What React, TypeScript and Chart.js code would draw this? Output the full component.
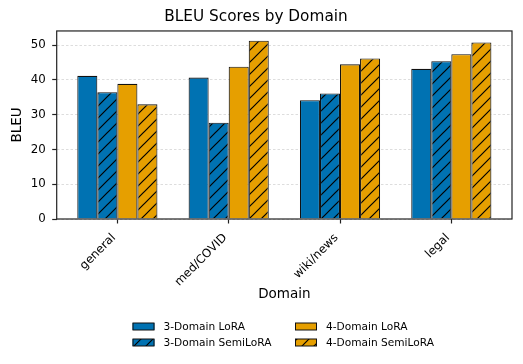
import React, { useEffect, useRef } from "react";
import { Chart, registerables } from "chart.js";

Chart.register(...registerables);

const categories = ["general", "med/COVID", "wiki/news", "legal"];
const seriesNames = ["3-Domain LoRA", "3-Domain SemiLoRA", "4-Domain LoRA", "4-Domain SemiLoRA"];
const lora3 = [41.2, 40.7, 34.2, 43.2];
const semi3 = [36.5, 27.7, 36.1, 45.4];
const lora4 = [38.9, 43.8, 44.5, 47.4];
const semi4 = [33.0, 51.3, 46.2, 50.8];
const yTicks = [0, 10, 20, 30, 40, 50];

const BLUE = "#0072B2";
const ORANGE = "#E69F00";
const EDGE = "#111111";
const FONT = "'DejaVu Sans', sans-serif";

function makeHatch(bg: string): CanvasPattern | string {
  const s = 12;
  const c = document.createElement("canvas");
  c.width = s;
  c.height = s;
  const g = c.getContext("2d");
  if (!g) return bg;
  g.fillStyle = bg;
  g.fillRect(0, 0, s, s);
  g.strokeStyle = "#000";
  g.lineWidth = 1.2;
  g.beginPath();
  g.moveTo(-2, s + 2);
  g.lineTo(s + 2, -2);
  g.moveTo(-2, 2);
  g.lineTo(2, -2);
  g.moveTo(s - 2, s + 2);
  g.lineTo(s + 2, s - 2);
  g.stroke();
  const p = g.createPattern(c, "repeat");
  return p || bg;
}

export default function App() {
  const ref = useRef<HTMLCanvasElement | null>(null);

  useEffect(() => {
    document.body.style.margin = "0";
    const canvas = ref.current;
    if (!canvas) return;
    const hatchBlue = makeHatch(BLUE);
    const hatchOrange = makeHatch(ORANGE);
    const fills = [BLUE, hatchBlue, ORANGE, hatchOrange];
    const values = [lora3, semi3, lora4, semi4];

    const framePlugin = {
      id: "frame",
      afterDatasetsDraw(chart: any) {
        const { ctx, chartArea: a } = chart;
        ctx.save();
        ctx.strokeStyle = "#222";
        ctx.lineWidth = 1.2;
        ctx.strokeRect(a.left, a.top, a.right - a.left, a.bottom - a.top);
        ctx.restore();
      },
    };

    const legendPlugin = {
      id: "customLegend",
      afterDraw(chart: any) {
        const ctx = chart.ctx;
        ctx.save();
        const cols = [132.5, 295];
        const rows = [326.5, 342.5];
        const order = [
          [0, 0, 0],
          [1, 0, 1],
          [2, 1, 0],
          [3, 1, 1],
        ];
        ctx.font = `10.6px ${FONT}`;
        ctx.textBaseline = "middle";
        ctx.textAlign = "left";
        for (const [i, c, r] of order) {
          const x = cols[c];
          const y = rows[r];
          ctx.fillStyle = fills[i] as any;
          ctx.fillRect(x, y - 3.5, 22, 7);
          ctx.strokeStyle = EDGE;
          ctx.lineWidth = 1;
          ctx.strokeRect(x + 0.5, y - 3.5, 21, 7);
          ctx.fillStyle = "#000";
          ctx.fillText(seriesNames[i], x + 31, y + 0.5);
        }
        ctx.restore();
      },
    };

    const chart = new Chart(canvas, {
      type: "bar",
      data: {
        labels: categories,
        datasets: values.map((v, i) => ({
          label: seriesNames[i],
          data: v,
          backgroundColor: fills[i] as any,
          borderColor: EDGE,
          borderWidth: 1.1,
          categoryPercentage: 0.72,
          barPercentage: 1.0,
        })),
      },
      options: {
        responsive: false,
        animation: false,
        layout: { padding: { left: 0, right: 11, top: 0, bottom: 61.4 } },
        plugins: {
          legend: { display: false },
          tooltip: { enabled: false },
          title: {
            display: true,
            text: "BLEU Scores by Domain",
            color: "#000",
            font: { family: FONT, size: 15.3, weight: "normal" },
            padding: { top: 8.3, bottom: 4.3 },
          },
        },
        scales: {
          x: {
            offset: true,
            afterBuildTicks: (scale: any) => {
              scale._startValue = -0.545;
              scale._valueRange = 4.09;
            },
            afterFit: (scale: any) => {
              scale.height = 83.6;
            },
            grid: {
              display: true,
              drawOnChartArea: false,
              offset: false,
              tickLength: 4.5,
              tickColor: "#222",
              tickWidth: 1.2,
            },
            border: { display: false },
            ticks: {
              autoSkip: false,
              minRotation: 45,
              maxRotation: 45,
              color: "#000",
              padding: 7.5,
              labelOffset: -3.5,
              font: { family: FONT, size: 11.8 },
            },
            title: {
              display: true,
              text: "Domain",
              color: "#000",
              font: { family: FONT, size: 13.5 },
              padding: { top: 0, bottom: 0 },
            },
          },
          y: {
            min: 0,
            max: 54.1,
            afterFit: (scale: any) => {
              scale.width = 56.7;
            },
            afterBuildTicks: (scale: any) => {
              scale.ticks = yTicks.map((v) => ({ value: v }));
            },
            grid: {
              color: "#d4d4d4",
              lineWidth: 0.8,
              tickLength: 4.5,
              tickColor: "#222",
              tickWidth: 1.2,
              tickBorderDash: [],
            },
            border: { display: false, dash: [2.5, 2] },
            ticks: {
              color: "#000",
              padding: 6.5,
              font: { family: FONT, size: 11.8 },
            },
            title: {
              display: true,
              text: "BLEU",
              color: "#000",
              font: { family: FONT, size: 13.5 },
              padding: { top: 9.1, bottom: 0 },
            },
          },
        },
      },
      plugins: [framePlugin, legendPlugin],
    });
    return () => chart.destroy();
  }, []);

  return (
    <div style={{ position: "absolute", left: 0, top: 0, width: 523, height: 364, background: "#fff" }}>
      <canvas ref={ref} width={523} height={364} style={{ display: "block", width: 523, height: 364 }} />
    </div>
  );
}
